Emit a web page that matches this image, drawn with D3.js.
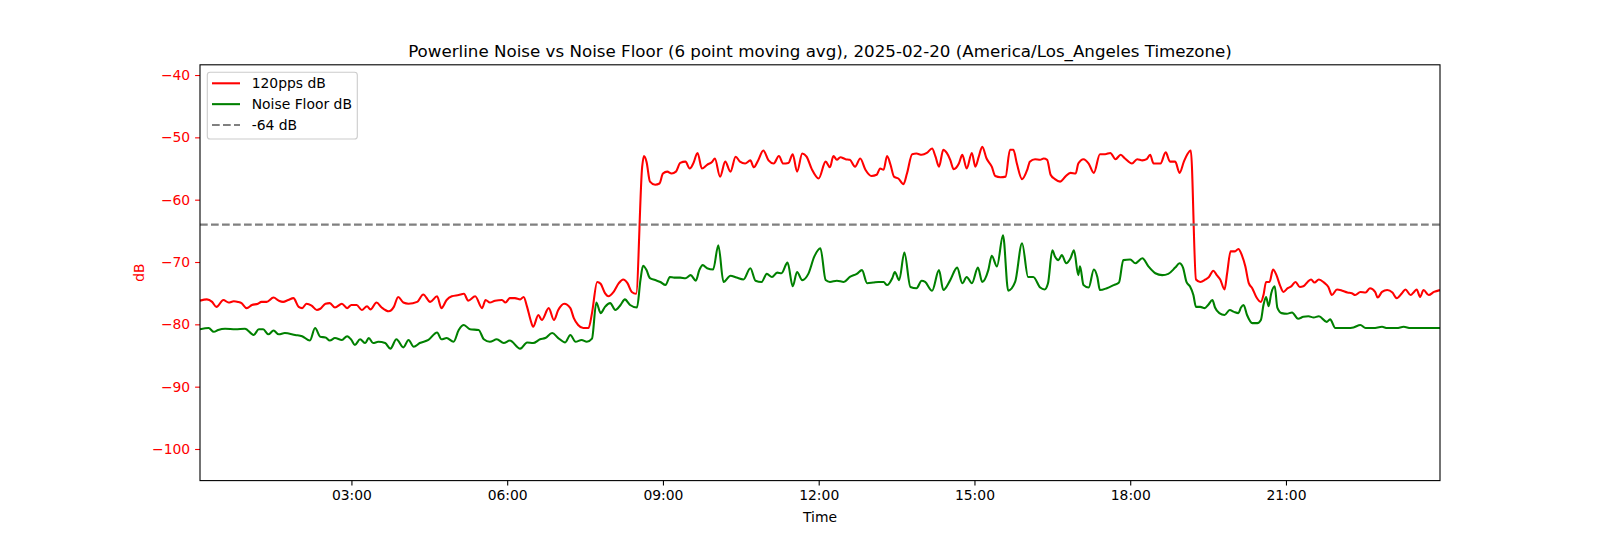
<!DOCTYPE html>
<html><head><meta charset="utf-8">
<script src="https://cdn.jsdelivr.net/npm/d3@7"></script>
<style>body{margin:0;background:#fff;} svg{display:block;font-family:"DejaVu Sans",sans-serif;}</style>
</head><body><svg id="chart" width="1600" height="540"></svg>
<script>
// ---- data (minutes since midnight, dB) ----
const redMinutes = [5,13,19,24,32,38,44,49,53,59,65,72,76,82,90,96,101,107,113,119,123,128,134,140,144,150,155,161,169,175,180,186,192,198,202,209,215,223,229,234,240,246,
256,263,271,279,284,290,296,304,310,315,323,331,335,340,346,354,358,363,369,375,379,383,387,390,396,400,408,414,419,426,
433,437,442,448,454,458,464,468,473,477,483,489,494,499,504,509,516,518,521,525,531,536,540,545,550,555,560,566,571,575,580,585,591,
597,600,606,612,618,624,629,635,641,645,650,656,662,668,674,679,685,690,695,701,706,712,720,728,733,
737,741,745,751,756,762,768,774,781,787,791,795,799,803,807,812,818,822,828,833,839,845,851,855,859,864,868,872,876,882,886,891,897,901,905,909,914,920,924,930,936,941,945,949,955,961,964,970,976,
980,984,988,993,999,1005,1011,1017,1020,1026,1032,1038,1045,1051,1057,1063,1069,1074,1082,1088,1094,1099,1103,1107,1115,1121,1126,1132,1137,
1142,1146,1150,1156,1161,1167,1171,1176,1180,1184,1189,1192,1196,1201,1205,1209,1213,1217,1221,1226,1231,1234,1237,1241,1245,1249,1253,1257,1262,1266,1271,1276,1280,1285,1289,1293,1298,
1304,1309,1313,1319,1325,1331,1336,1340,1346,1352,1357,1363,1366,1371,1377,1383,1388,1394,1398,1404,1408,1411,1415,1419,1425,1431,1438];
const redDb = [-76.2,-76.0,-76.4,-77.2,-76.1,-76.5,-76.3,-76.4,-76.6,-77.4,-76.9,-76.7,-76.4,-76.4,-75.7,-76.2,-76.4,-76.1,-75.8,-77.2,-77.4,-76.7,-77.0,-77.7,-77.5,-76.7,-76.6,-77.3,-76.7,-77.4,-76.9,-76.9,-77.7,-77.1,-77.6,-76.5,-77.3,-77.9,-77.2,-75.6,-76.5,-76.7,
-76.4,-75.2,-76.4,-75.5,-77.4,-76.1,-75.5,-75.3,-75.1,-76.2,-75.5,-77.4,-76.1,-76.5,-76.2,-76.1,-76.5,-75.8,-75.8,-76.0,-75.6,-77.2,-79.3,-80.4,-78.5,-79.3,-77.4,-79.3,-77.7,-76.7,
-77.4,-79.0,-80.1,-80.6,-80.6,-78.2,-73.2,-73.5,-75.0,-75.5,-74.8,-73.4,-72.8,-73.4,-74.8,-75.1,-54.7,-53.0,-53.9,-57.1,-57.6,-57.4,-55.8,-55.5,-55.8,-55.5,-54.1,-53.9,-55.0,-54.2,-52.5,-55.0,-54.4,
-53.9,-53.4,-56.3,-53.9,-55.5,-53.1,-53.9,-54.2,-53.7,-54.8,-53.7,-52.1,-53.7,-54.2,-53.0,-54.2,-54.1,-52.7,-55.5,-52.6,-53.1,-55.1,-56.6,-53.9,-54.8,
-53.0,-53.6,-53.2,-53.5,-53.6,-54.7,-53.4,-55.2,-56.2,-56.0,-55.0,-55.2,-53.0,-54.4,-56.3,-56.6,-57.5,-55.8,-52.7,-52.6,-52.8,-52.5,-51.8,-53.1,-54.7,-52.0,-52.5,-53.6,-55.1,-54.2,-52.8,-55.0,-52.5,-54.7,-53.1,-51.5,-53.4,-54.7,-56.2,-56.4,-56.3,-52.0,-52.0,-54.2,-56.7,-55.2,-53.9,-53.5,-53.6,
-53.4,-53.6,-56.0,-56.7,-57.1,-56.3,-55.7,-55.8,-54.2,-53.5,-54.2,-55.7,-52.7,-52.7,-52.5,-53.5,-52.8,-53.4,-54.2,-53.5,-53.7,-53.5,-52.8,-54.2,-54.2,-52.4,-53.9,-53.9,-55.7,
-53.9,-52.7,-52.1,-72.8,-73.2,-72.8,-72.4,-71.4,-72.1,-72.8,-74.4,-71.8,-68.3,-68.3,-67.9,-68.9,-70.7,-73.4,-74.2,-75.7,-76.4,-75.3,-73.2,-73.2,-71.2,-72.1,-73.7,-74.8,-74.2,-73.9,-73.2,-74.0,-73.9,-73.2,-72.8,-73.3,-72.8,
-73.3,-74.0,-75.3,-74.4,-74.6,-74.9,-75.0,-75.3,-74.8,-74.9,-74.2,-74.8,-75.7,-74.8,-74.5,-74.9,-75.8,-75.0,-74.4,-75.3,-74.8,-74.4,-75.6,-74.5,-75.3,-74.8,-74.5];

const floorMinutes = [5,15,21,26,34,46,57,67,73,78,84,90,96,103,115,123,132,138,144,150,155,161,169,175,180,184,190,196,200,205,211,219,225,232,240,246,
252,259,269,279,284,290,298,304,310,317,327,333,340,348,356,363,375,383,390,398,404,412,419,427,
433,439,446,452,458,463,468,473,479,485,491,496,502,510,514,517,521,525,531,537,543,548,553,560,566,572,578,582,586,591,
598,604,610,618,625,633,641,647,654,660,666,672,677,684,690,695,701,708,715,722,728,733,
741,749,756,764,770,776,783,789,795,799,805,808,813,819,826,833,839,843,851,859,864,872,880,886,891,897,904,909,916,920,926,933,939,947,955,962,968,976,
981,985,990,993,997,1001,1006,1011,1015,1020,1022,1026,1032,1038,1042,1045,1053,1061,1067,1072,1080,1086,1094,1101,1109,1117,1124,1132,
1137,1141,1145,1149,1153,1156,1161,1166,1170,1175,1178,1183,1189,1195,1200,1205,1208,1211,1215,1221,1227,1231,1234,1237,1240,1243,1247,1250,1255,1261,1267,1274,1280,1286,1292,1298,
1307,1311,1317,1323,1331,1338,1346,1352,1361,1371,1377,1388,1396,1404,1415,1427,1438];
const floorDb = [-80.8,-80.6,-81.2,-80.9,-80.7,-80.8,-80.7,-81.7,-80.8,-80.8,-81.6,-81.0,-81.6,-81.4,-81.7,-81.9,-82.6,-80.6,-82.0,-82.1,-82.6,-82.2,-82.5,-81.9,-82.5,-83.3,-82.4,-83.0,-82.2,-83.0,-82.8,-83.0,-83.9,-82.4,-83.7,-82.5,
-83.6,-83.0,-82.5,-81.3,-82.4,-82.2,-82.8,-80.9,-80.1,-80.8,-80.9,-82.4,-82.8,-82.4,-83.0,-82.6,-83.9,-82.9,-83.0,-82.4,-82.2,-81.4,-82.2,-82.9,
-81.7,-82.8,-82.5,-82.8,-82.3,-76.5,-78.2,-77.2,-76.6,-77.7,-76.9,-76.0,-76.9,-77.3,-72.9,-70.6,-71.3,-72.6,-72.9,-73.2,-73.7,-72.4,-72.5,-72.5,-72.6,-72.1,-73.0,-71.3,-70.5,-71.0,
-71.2,-67.3,-73.2,-72.2,-72.5,-72.8,-71.0,-73.0,-73.2,-71.9,-72.4,-71.7,-71.8,-70.1,-73.9,-71.6,-72.9,-71.9,-69.1,-67.8,-72.9,-73.2,
-73.0,-73.2,-72.4,-71.9,-71.3,-73.4,-73.3,-73.2,-73.2,-73.7,-72.6,-71.6,-72.9,-68.5,-74.0,-74.2,-73.0,-73.2,-74.6,-71.3,-74.5,-72.9,-70.9,-73.4,-72.4,-73.4,-70.9,-73.2,-71.3,-69.0,-70.7,-65.7,-74.6,-73.2,-67.0,-72.4,-72.4,-74.1,
-74.4,-73.4,-68.1,-69.1,-69.7,-68.9,-70.2,-69.4,-68.1,-72.1,-70.7,-73.7,-74.1,-71.2,-72.4,-74.5,-74.2,-73.7,-73.3,-69.7,-69.6,-70.2,-69.4,-70.7,-71.8,-72.1,-71.9,-70.9,
-70.2,-70.9,-73.2,-73.9,-75.3,-77.2,-77.2,-77.4,-76.9,-76.1,-77.3,-78.2,-78.5,-77.7,-78.0,-78.2,-77.3,-76.9,-78.5,-79.8,-79.8,-79.3,-76.9,-75.6,-77.1,-75.0,-73.9,-77.3,-78.2,-78.3,-78.1,-79.1,-78.8,-78.7,-78.9,-78.7,
-79.6,-79.2,-80.6,-80.6,-80.6,-80.5,-80.1,-80.6,-80.6,-80.4,-80.6,-80.6,-80.4,-80.6,-80.6,-80.6,-80.6];

const referenceLevel = -64;
const yTickValues = [-40, -50, -60, -70, -80, -90, -100];
const xTickHours = [3, 6, 9, 12, 15, 18, 21];
const legendLabels = ["120pps dB", "Noise Floor dB", "-64 dB"];
const titleText = "Powerline Noise vs Noise Floor (6 point moving avg), 2025-02-20 (America/Los_Angeles Timezone)";
const xLabel = "Time";
const yLabel = "dB";

// ---- layout ----
const L = 200, R = 1440, T = 64.8, B = 480.6;
const FS = 13.9;
const svg = d3.select("#chart");
const base = new Date(2025, 1, 20, 0, 0, 0);
const toDate = m => new Date(base.getTime() + m * 60000);

const x = d3.scaleTime().domain([toDate(redMinutes[0]), toDate(redMinutes[redMinutes.length - 1])]).range([L, R]);
const y = d3.scaleLinear().domain([-105.07, -38.36]).range([B, T]);

svg.append("defs").append("clipPath").attr("id", "clip")
  .append("rect").attr("x", L).attr("y", T).attr("width", R - L).attr("height", B - T);

const redData = redMinutes.map((m, i) => ({t: toDate(m), v: redDb[i]}));
const floorData = floorMinutes.map((m, i) => ({t: toDate(m), v: floorDb[i]}));
const line = d3.line().x(d => x(d.t)).y(d => y(d.v)).curve(d3.curveMonotoneX);

const plot = svg.append("g").attr("clip-path", "url(#clip)");
plot.append("path").datum(redData).attr("d", line)
  .attr("fill", "none").attr("stroke", "#ff0000").attr("stroke-width", 2.08).attr("stroke-linejoin", "round");
plot.append("path").datum(floorData).attr("d", line)
  .attr("fill", "none").attr("stroke", "#008000").attr("stroke-width", 2.08).attr("stroke-linejoin", "round");
plot.append("line").attr("x1", L).attr("x2", R).attr("y1", y(referenceLevel)).attr("y2", y(referenceLevel))
  .attr("stroke", "#808080").attr("stroke-width", 2.08).attr("stroke-dasharray", "7.7,3.3");

// axes
const xAxis = d3.axisBottom(x).tickValues(xTickHours.map(h => toDate(h * 60)))
  .tickFormat(d3.timeFormat("%H:%M")).tickSize(4.9).tickPadding(4.9);
const gx = svg.append("g").attr("transform", `translate(0,${B})`).call(xAxis);
gx.select(".domain").remove();
gx.selectAll(".tick line").attr("stroke", "#000").attr("stroke-width", 1.1);
gx.selectAll(".tick text").attr("fill", "#000").style("font-size", FS + "px").style("font-family", "DejaVu Sans");

const yAxis = d3.axisLeft(y).tickValues(yTickValues)
  .tickFormat(d => (d < 0 ? "\u2212" : "") + Math.abs(d)).tickSize(4.9).tickPadding(4.9);
const gy = svg.append("g").attr("transform", `translate(${L},0)`).call(yAxis);
gy.select(".domain").remove();
gy.selectAll(".tick line").attr("stroke", "#ff0000").attr("stroke-width", 1.1);
gy.selectAll(".tick text").attr("fill", "#ff0000").style("font-size", FS + "px").style("font-family", "DejaVu Sans");

// frame
svg.append("rect").attr("x", L).attr("y", T).attr("width", R - L).attr("height", B - T)
  .attr("fill", "none").attr("stroke", "#000").attr("stroke-width", 1.1);

// labels
svg.append("text").attr("x", (L + R) / 2).attr("y", 56.5).attr("text-anchor", "middle")
  .style("font-size", "16.7px").attr("fill", "#000").text(titleText);
svg.append("text").attr("x", (L + R) / 2).attr("y", 521.5).attr("text-anchor", "middle")
  .style("font-size", FS + "px").attr("fill", "#000").text(xLabel);
svg.append("text").attr("transform", `translate(139,${(T + B) / 2}) rotate(-90)`).attr("dy", "0.35em")
  .attr("text-anchor", "middle").style("font-size", FS + "px").attr("fill", "#ff0000").text(yLabel);

// legend
const lg = svg.append("g");
lg.append("rect").attr("x", 207.3).attr("y", 72.3).attr("width", 150).attr("height", 66.7)
  .attr("rx", 2.8).attr("fill", "#fff").attr("fill-opacity", 0.8).attr("stroke", "#cccccc").attr("stroke-width", 1.1);
const legendStyles = [
  {c: "#ff0000", dash: null},
  {c: "#008000", dash: null},
  {c: "#808080", dash: "7.7,3.3"}
];
legendLabels.forEach((lab, i) => {
  const yy = 83.3 + i * 20.85;
  const ln = lg.append("line").attr("x1", 212).attr("x2", 240).attr("y1", yy).attr("y2", yy)
    .attr("stroke", legendStyles[i].c).attr("stroke-width", 2.08);
  if (legendStyles[i].dash) ln.attr("stroke-dasharray", legendStyles[i].dash);
  lg.append("text").attr("x", 251.7).attr("y", yy + 5).style("font-size", FS + "px").attr("fill", "#000").text(lab);
});
</script></body></html>
